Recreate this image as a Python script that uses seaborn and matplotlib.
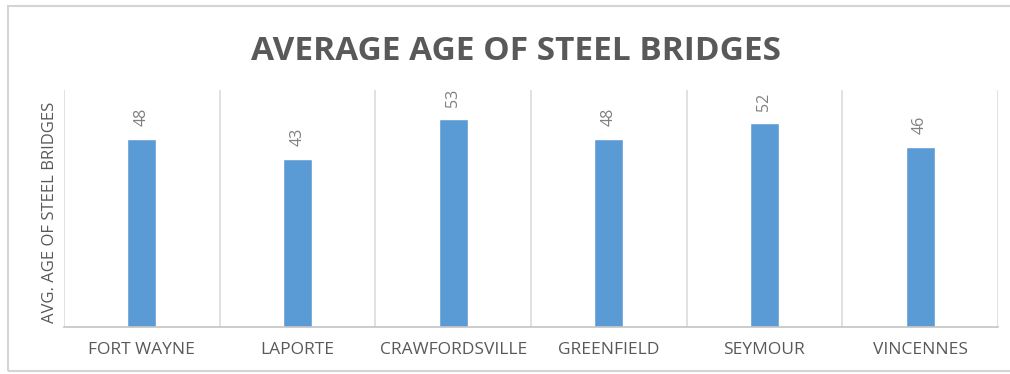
import matplotlib
matplotlib.use("Agg")
import matplotlib.pyplot as plt
import seaborn as sns
import pandas as pd
from matplotlib.patches import Rectangle

# Data
cities = ["FORT WAYNE", "LAPORTE", "CRAWFORDSVILLE", "GREENFIELD", "SEYMOUR", "VINCENNES"]
avg_age = [48, 43, 53, 48, 52, 46]

title = "AVERAGE AGE OF STEEL BRIDGES"
y_label = "AVG. AGE OF STEEL BRIDGES"

sns.set_theme(style="white")
plt.rcParams["font.family"] = ["Open Sans", "DejaVu Sans"]

df = pd.DataFrame({"city": cities, "age": avg_age})

fig = plt.figure(figsize=(10.10, 3.74), dpi=100)
ax = fig.add_axes([0.0634, 0.1257, 0.9246, 0.6337])

sns.barplot(data=df, x="city", y="age", color="#5B9BD5", saturation=1,
            width=0.186, ax=ax)

ax.set_ylim(0, 60.5)
ax.set_xlim(-0.5, len(cities) - 0.5)

# category separators
ax.set_xticks([i - 0.5 for i in range(len(cities) + 1)], minor=True)
ax.grid(False)
ax.grid(True, which="minor", axis="x", color="#d9d9d9", linewidth=1.1)
ax.tick_params(axis="x", which="both", length=0, pad=10.5,
               labelsize=12.5, labelcolor="#595959")
ax.set_yticks([])
ax.set_xlabel("")

for side in ["top", "right", "left"]:
    ax.spines[side].set_visible(False)
ax.spines["bottom"].set_color("#c4c4c4")
ax.spines["bottom"].set_linewidth(1.2)

ax.set_ylabel(y_label, fontsize=12, color="#595959")
ax.yaxis.set_label_coords(-0.006, 0.485)

for container in ax.containers:
    ax.bar_label(container, labels=[str(v) for v in avg_age], rotation=90,
                 padding=9, fontsize=11.5, color="#808080")

fig.text(0.511, 1 - 60 / 374, title, ha="center", va="baseline",
         fontsize=24, fontweight="bold", color="#595959")

# outer chart border
fig.patches.append(Rectangle((8 / 1010, 3 / 374), 1.1, 365 / 374,
                             transform=fig.transFigure, fill=False,
                             edgecolor="#d4d4d4", linewidth=1.5))

fig.savefig("out.png", dpi=100, facecolor="white")
